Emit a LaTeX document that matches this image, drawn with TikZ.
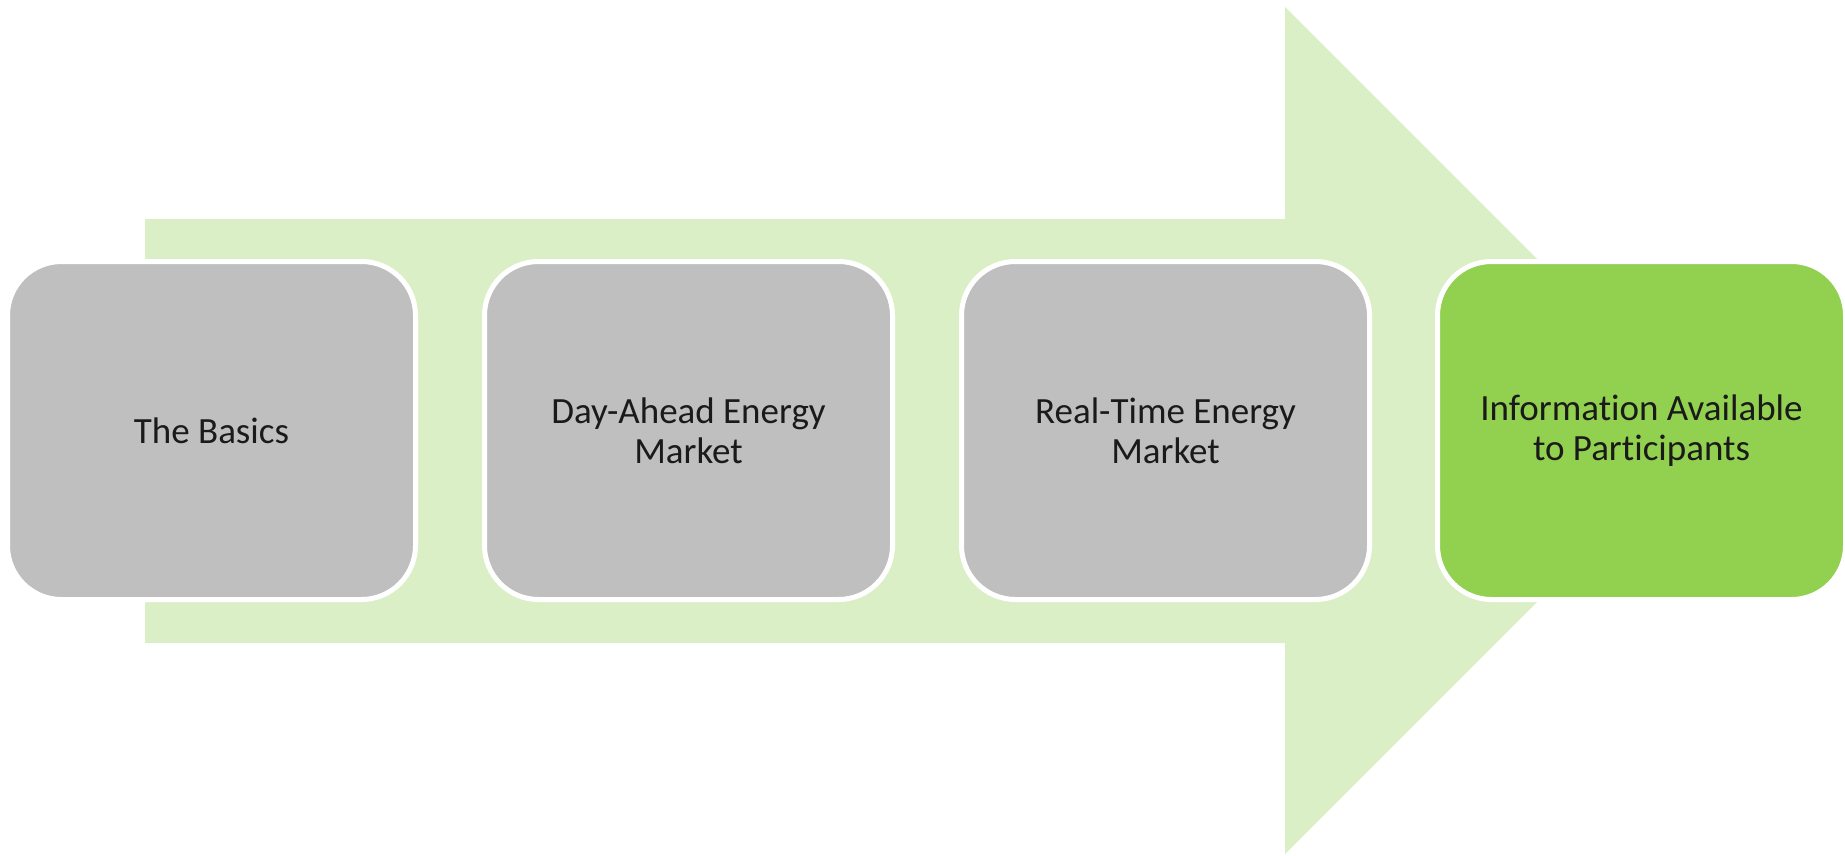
\documentclass[tikz,border=0pt]{standalone}
\usepackage{fontspec}
\setmainfont{Carlito}[Ligatures={NoCommon}]
\definecolor{arrowgreen}{RGB}{219,239,198}
\definecolor{boxgray}{RGB}{191,191,191}
\definecolor{boxgreen}{RGB}{146,208,80}
\definecolor{txt}{RGB}{26,26,26}
\tikzset{
  stagebox/.style={rectangle, rounded corners=54pt, minimum width=408pt, minimum height=338pt,
    line width=5pt, draw=white, fill=boxgray, inner sep=0pt, align=center, text=txt,
    font=\fontsize{37}{40}\selectfont},
  lastbox/.style={stagebox, fill=boxgreen}
}
\begin{document}
\begin{tikzpicture}[x=1pt,y=-1pt]
\useasboundingbox (0,0) rectangle (1845,855);
\fill[arrowgreen] (145,219) -- (1285,219) -- (1285,7) -- (1708.5,430.5) -- (1285,854) -- (1285,643) -- (145,643) -- cycle;
\node[stagebox] (b1) at (211.5,430.5) {The Basics};
\node[stagebox] (b2) at (688.5,430.5) {Day-Ahead Energy\\Market};
\node[stagebox] (b3) at (1165.5,430.5) {Real-Time Energy\\Market};
\node[lastbox] (b4) at (1641.5,430.5) {Information Available\\to Participants};
\end{tikzpicture}
\end{document}
